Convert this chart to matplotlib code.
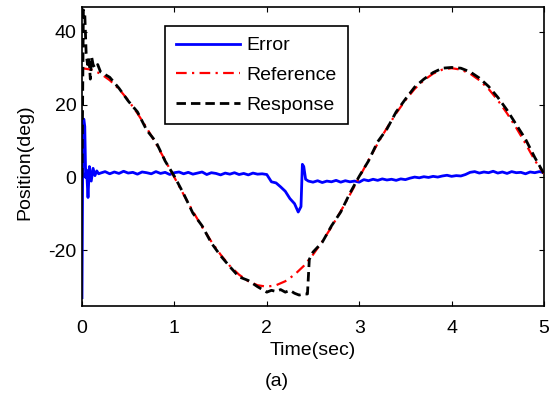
import numpy as np
import matplotlib
matplotlib.use("Agg")
import matplotlib.pyplot as plt

plt.rcParams['font.family'] = ['Liberation Sans', 'DejaVu Sans']
plt.rcParams['axes.unicode_minus'] = False

# ---- data ----
ref_t = [0.0, 0.1, 0.2, 0.3, 0.4, 0.5, 0.6, 0.7, 0.8, 0.9,
         1.0, 1.1, 1.2, 1.3, 1.4, 1.5, 1.6, 1.7, 1.8, 1.9,
         2.0, 2.1, 2.2, 2.3, 2.4, 2.5, 2.6, 2.7, 2.8, 2.9,
         3.0, 3.1, 3.2, 3.3, 3.4, 3.5, 3.6, 3.7, 3.8, 3.9,
         4.0, 4.1, 4.2, 4.3, 4.4, 4.5, 4.6, 4.7, 4.8, 4.9, 5.0]
ref_v = [30, 29.6, 28.5, 26.7, 24.3, 21.2, 17.6, 13.6, 9.3, 4.7,
         0, -4.7, -9.3, -13.6, -17.6, -21.2, -24.3, -26.7, -28.5, -29.6,
         -30, -29.6, -28.5, -26.7, -24.3, -21.2, -17.6, -13.6, -9.3, -4.7,
         0, 4.7, 9.3, 13.6, 17.6, 21.2, 24.3, 26.7, 28.5, 29.6,
         30, 29.6, 28.5, 26.7, 24.3, 21.2, 17.6, 13.6, 9.3, 4.7, 1.0]

resp_t = [0, 0.015, 0.03, 0.045, 0.06, 0.075, 0.09, 0.105, 0.12, 0.14, 0.17, 0.2,
          0.3, 0.4, 0.5, 0.6, 0.7, 0.8, 0.9, 1.0, 1.1, 1.2, 1.3, 1.4, 1.5, 1.6,
          1.7, 1.8, 1.9, 2.0, 2.05, 2.1, 2.15, 2.2, 2.25, 2.3, 2.35, 2.4, 2.44,
          2.46, 2.5, 2.6, 2.7, 2.8, 2.9, 3.0, 3.1, 3.2, 3.3, 3.4, 3.5, 3.6, 3.7,
          3.8, 3.9, 4.0, 4.1, 4.2, 4.3, 4.4, 4.5, 4.6, 4.7, 4.8, 4.9, 5.0]
resp_v = [0, 46, 45, 34, 31, 33, 27, 33, 31, 30, 31, 29,
          27.5, 24.5, 21, 18, 13, 9.8, 4.5, 0.3, -4.5, -9.8, -13.3, -18, -21.5, -24.5,
          -27.3, -28.3, -30, -31.5, -31, -31.3, -30.8, -31.5, -31, -31.8, -32.3, -32, -32,
          -22.5, -20.5, -17.8, -13.3, -9.5, -4.3, 0.3, 4.5, 9.8, 13.3, 18, 21.5, 24.8, 27,
          28.8, 30, 30.2, 30, 29, 27.3, 25, 22, 18.5, 14.5, 10.5, 5.5, 1.0]

err_t_start = [0, 0.01, 0.02, 0.03, 0.04, 0.05, 0.065, 0.08, 0.1, 0.12, 0.14, 0.16, 0.18]
err_v_start = [-33, 15, 16, 14, 0, 2, -5.5, 3, -1, 2.5, 0.5, 1.8, 1.0]
err_t_flat = list(np.round(np.arange(0.2, 1.9001, 0.05), 3))
err_v_flat = [1.2, 1.6, 1.0, 1.5, 1.1, 1.7, 1.2, 1.4, 0.9, 1.5,
              1.3, 1.0, 1.6, 1.1, 1.4, 0.8, 1.3, 1.5, 1.0, 1.4,
              0.9, 1.2, 1.5, 0.8, 1.3, 1.1, 0.7, 1.2, 0.9, 1.3,
              0.8, 1.1, 0.7, 1.2, 0.9]
err_t_dip = [1.95, 2.0, 2.05, 2.1, 2.15, 2.2, 2.25, 2.3, 2.34, 2.37, 2.385, 2.4, 2.42, 2.45]
err_v_dip = [1.0, 0.8, -1.2, -1.5, -2.6, -3.8, -5.8, -7.2, -9.5, -8.0, 3.6, 3.0, -0.5, -1.0]
err_t_end = list(np.round(np.arange(2.5, 5.0001, 0.05), 3))
err_v_end = [-1.3, -0.9, -1.4, -1.0, -1.2, -0.8, -1.3, -0.9, -1.2, -1.0, -1.3,
             -0.6, -0.9, -0.5, -0.8, -0.4, -0.7, -0.5, -0.8, -0.4, -0.6,
             -0.2, 0.1, -0.1, 0.2, 0.0, 0.3, 0.1,
             0.4, 0.6, 0.3, 0.5, 0.4, 0.8,
             1.4, 1.6, 1.2, 1.5, 1.3, 1.7, 1.2, 1.5, 1.1, 1.6, 1.3, 1.4, 1.0, 1.5, 1.3, 1.6, 1.3]

err_t = err_t_start + err_t_flat + err_t_dip + err_t_end
err_v = err_v_start + err_v_flat + err_v_dip + err_v_end

x_ticks = [0, 1, 2, 3, 4, 5]
y_ticks = [-20, 0, 20, 40]

# ---- figure ----
fig = plt.figure(figsize=(5.54, 3.94), dpi=100)
ax = fig.add_axes([82/554, 1-306/394, (544-82)/554, (306-7)/394])

ax.plot(err_t, err_v, color='#0000ff', lw=2.0, label='Error', zorder=2)
ax.plot(ref_t, ref_v, color='#ff0000', lw=1.6, dashes=(4.8, 2.4, 1, 2.4),
        label='Reference', zorder=3)
ax.plot(resp_t, resp_v, color='black', lw=2.0, dashes=(3.4, 1.8),
        label='Response', zorder=4)

ax.set_xlim(0, 5)
ax.set_ylim(-35.3, 46.8)
ax.set_xticks(x_ticks)
ax.set_yticks(y_ticks)
ax.tick_params(direction='in', length=3.5, width=0.8, top=True, right=True,
               labelsize=14)
ax.tick_params(axis='x', pad=10)
ax.tick_params(axis='y', pad=4)
for s in ax.spines.values():
    s.set_linewidth(1.2)

ax.set_xlabel('Time(sec)', fontsize=14, labelpad=4)
ax.set_ylabel('Position(deg)', fontsize=14)
ax.yaxis.set_label_coords(-0.105, 0.48)
fig.text(277/554, 1-382/394, '(a)', fontsize=14, ha='center', va='center')

leg = ax.legend(loc='upper left', bbox_to_anchor=(165/554, 1-26/394),
                bbox_transform=fig.transFigure, borderaxespad=0,
                fancybox=False, framealpha=1, edgecolor='black',
                fontsize=14, handlelength=3.3, handletextpad=0.35,
                labelspacing=0.62, borderpad=0.55)
leg.get_frame().set_linewidth(1.2)

fig.savefig('out.png', dpi=100)
